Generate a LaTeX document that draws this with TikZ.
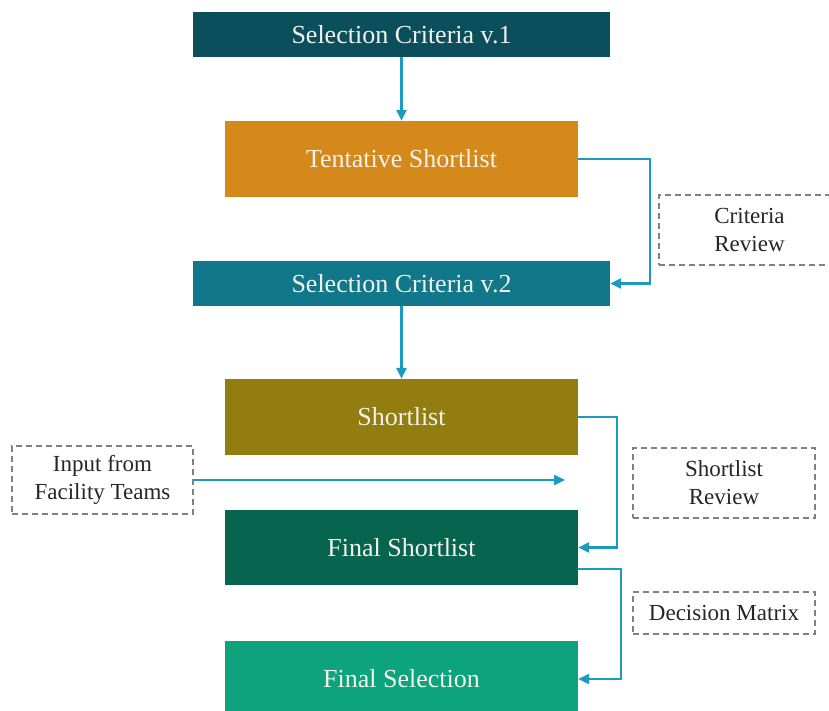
\documentclass[tikz,border=0pt]{standalone}
\usepackage{fontspec}
\setmainfont{Liberation Serif}
\usetikzlibrary{arrows.meta,calc}
\definecolor{cvone}{HTML}{0B4F5C}
\definecolor{ctent}{HTML}{D4891A}
\definecolor{cvtwo}{HTML}{11778A}
\definecolor{cshort}{HTML}{937C10}
\definecolor{cfshort}{HTML}{07644F}
\definecolor{cfsel}{HTML}{0DA37C}
\definecolor{clink}{HTML}{1A9BBF}
\definecolor{cdash}{HTML}{808080}
\definecolor{ctext}{HTML}{F2F2EC}
\tikzset{
  stage/.style={rectangle, inner sep=0pt, text=ctext, font=\fontsize{26}{30}\selectfont},
  wide/.style={stage, minimum width=417pt, minimum height=45pt},
  narrow/.style={stage, minimum width=353pt, minimum height=76pt},
  note/.style={rectangle, draw=cdash, line width=1.8pt, dash pattern=on 6pt off 4pt,
    inner sep=0pt, align=center, text=black!85, font=\fontsize{23}{28}\selectfont},
  link/.style={draw=clink, line width=2.4pt, -{Triangle[length=11pt,width=10pt]}}
}
\begin{document}
\begin{tikzpicture}[x=1pt,y=-1pt]
  \clip (0,0) rectangle (829,711);
  \useasboundingbox (0,0) rectangle (829,711);

  % main sequence of stages
  \node[wide, fill=cvone]    (v1)     at (401.5,34.5) {Selection Criteria v.1};
  \node[narrow, fill=ctent]  (tent)   at (401.5,159)  {Tentative Shortlist};
  \node[wide, fill=cvtwo]    (v2)     at (401.5,283.5){Selection Criteria v.2};
  \node[narrow, fill=cshort] (short)  at (401.5,417)  {Shortlist};
  \node[narrow, fill=cfshort, minimum height=75pt] (fshort) at (401.5,547.5) {Final Shortlist};
  \node[narrow, fill=cfsel]  (fsel)   at (401.5,679)  {Final Selection};

  % side notes
  \node[note, minimum width=181pt, minimum height=70pt] (crit)  at (749.5,230) {Criteria\\Review};
  \node[note, minimum width=182pt, minimum height=70pt] (srev)  at (724,483)   {Shortlist\\Review};
  \node[note, minimum width=182pt, minimum height=42pt] (dmat)  at (724,613)   {Decision Matrix};
  \node[note, minimum width=181pt, minimum height=68pt] (input) at (102.5,480) {Input from\\Facility Teams};

  \coordinate (inend) at (565,480);

  % connectors
  \draw[link] (v1) -- (tent);
  \draw[link] (tent.east) -- ++(72,0) |- (v2.east);
  \draw[link] (v2) -- (short);
  \draw[link] (short.east) -- ++(39,0) |- (fshort.east);
  \draw[link] ([yshift=16pt]fshort.south east) -- ++(43,0) |- (fsel.east);
  \draw[link] (input.east) -- (inend);
\end{tikzpicture}
\end{document}
